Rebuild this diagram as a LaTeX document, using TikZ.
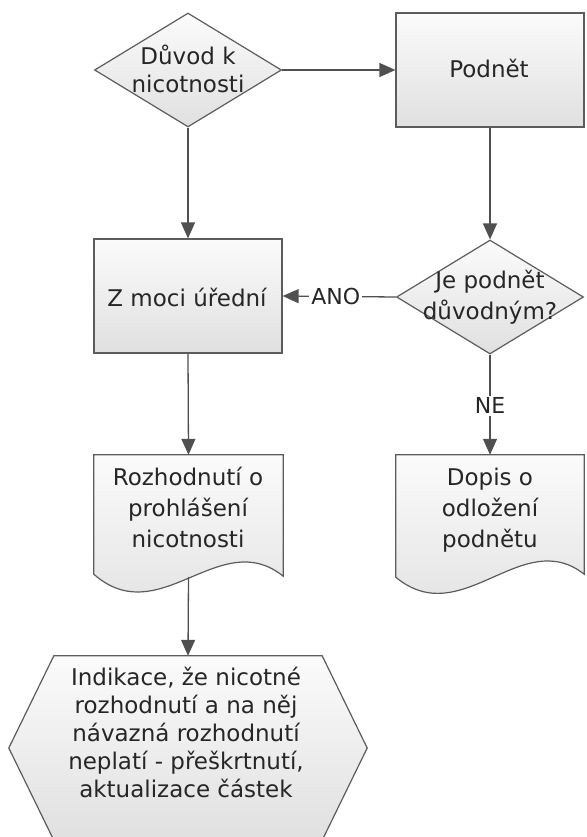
\documentclass[tikz,border=0pt]{standalone}
\usepackage{fontspec}
\setmainfont{DejaVu Sans}
\usetikzlibrary{shapes.geometric,arrows.meta,calc}
\definecolor{linec}{HTML}{505050}
\definecolor{edgec}{HTML}{5C5C5C}
\definecolor{txt}{HTML}{262626}
\definecolor{fillb}{HTML}{E0E0E0}
\definecolor{fillt}{HTML}{FBFBFB}
\begin{document}
\begin{tikzpicture}[x=1pt,y=-1pt,
  every node/.style={text=txt},
  txtA/.style={align=center, font=\fontsize{23}{28}\selectfont},
  txtB/.style={align=center, font=\fontsize{23}{31}\selectfont},
  procbox/.style={rectangle, draw=edgec, line width=1.2pt, top color=fillt, bottom color=fillb,
    minimum width=188pt, minimum height=114pt, inner sep=0pt},
  decision/.style={diamond, draw=edgec, line width=1.2pt, top color=fillt, bottom color=fillb,
    minimum width=187pt, minimum height=114pt, inner sep=0pt},
  holder/.style={rectangle, draw=none, inner sep=0pt},
  outline/.style={draw=edgec, line width=1.2pt, top color=fillt, bottom color=fillb},
  flow/.style={draw=linec, line width=1.3pt, -{Triangle[length=16pt,width=14pt]}},
  lbl/.style={fill=white, inner sep=2pt, font=\fontsize{22}{24}\selectfont}
]
\useasboundingbox (0,0) rectangle (586,837);

% decisions and process boxes
\node[decision] (d1) at (188,70) {};
\node[txtA] (d1t) at (188,69) {Důvod k\\nicotnosti};

\node[procbox] (pd) at (490,70) {};
\node[txtA] (pdt) at (489,68) {Podnět};

\node[procbox] (z) at (188,296) {};
\node[txtA] (zt) at (187,297) {Z moci úřední};

\node[decision] (d2) at (490,297) {};
\node[txtB] (d2t) at (490,297) {Je podnět\\důvodným?};

% documents
\node[holder, minimum width=189pt, minimum height=122pt] (doc1) at (188.5,516) {};
\path[outline] (doc1.north west) -- (doc1.north east) -- ($(doc1.south east)+(0,-1)$)
  .. controls ($(doc1.south west)+(126,-52)$) and ($(doc1.south west)+(66,55)$) ..
  ($(doc1.south west)+(0,-3)$) -- cycle;
\node[txtB] (doc1t) at (188,507) {Rozhodnutí o\\prohlášení\\nicotnosti};

\node[holder, minimum width=188pt, minimum height=122pt] (doc2) at (490,516) {};
\path[outline] (doc2.north west) -- (doc2.north east) -- ($(doc2.south east)+(0,-3)$)
  .. controls ($(doc2.south west)+(126,-52)$) and ($(doc2.south west)+(66,55)$) ..
  ($(doc2.south west)+(0,0)$) -- cycle;
\node[txtB] (doc2t) at (490,510) {Dopis o\\odložení\\podnětu};

% hexagon
\node[holder, minimum width=358pt, minimum height=184pt] (hex) at (188,748) {};
\path[outline] ($(hex.north west)+(45,0)$) -- ($(hex.north east)+(-45,0)$) -- (hex.east)
  -- ($(hex.south east)+(-45,0)$) -- ($(hex.south west)+(45,0)$) -- (hex.west) -- cycle;
\node[txtA] (hext) at (186,732) {Indikace, že nicotné\\rozhodnutí a na něj\\návazná rozhodnutí\\neplatí - přeškrtnutí,\\aktualizace částek};

% connectors
\draw[flow] (d1.east) -- (pd.west);
\draw[flow] (d1.south) -- (z.north);
\draw[flow] (pd.south) -- (d2.north);
\draw[flow] (d2.west) -- node[lbl, pos=0.53] (ano) {ANO} (z.east);
\draw[flow] (d2.south) -- node[lbl, pos=0.51] (ne) {NE} (doc2.north);
\draw[flow] (z.south) -- (doc1.north);
\draw[flow] (doc1.south) -- (hex.north);
\end{tikzpicture}
\end{document}
